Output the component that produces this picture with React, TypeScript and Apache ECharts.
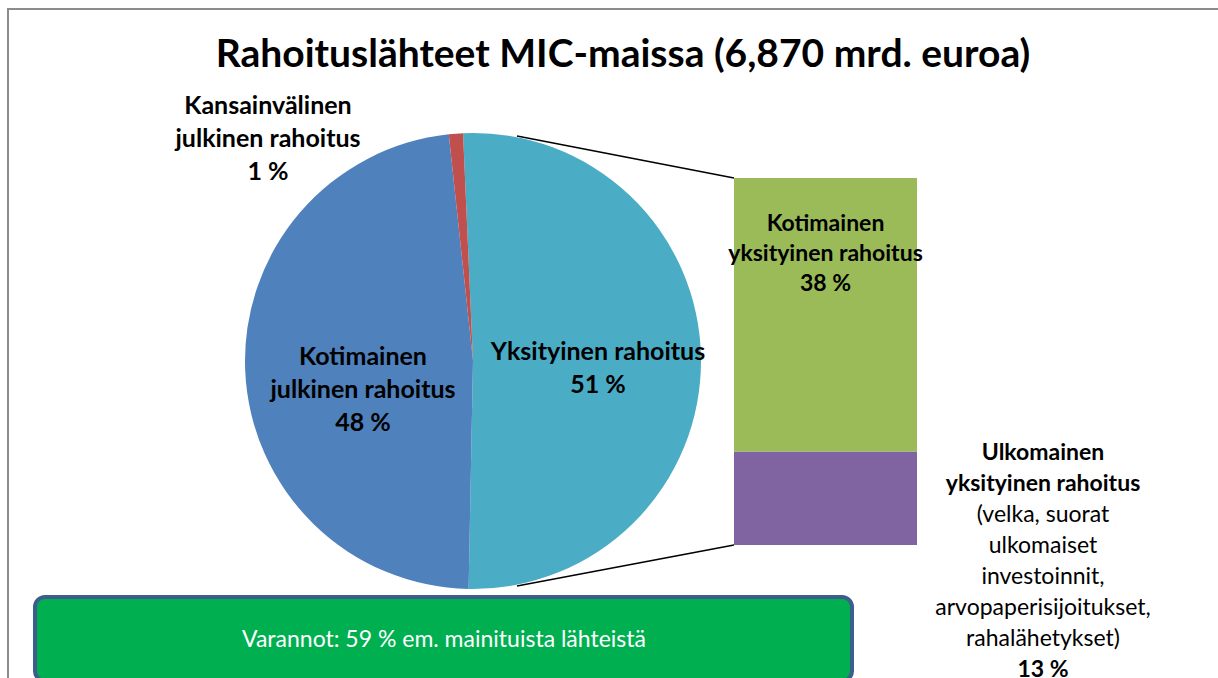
import React, { useEffect, useRef } from "react";
import * as echarts from "echarts";

const titleText = "Rahoituslähteet MIC-maissa (6,870 mrd. euroa)";
const pieNames = ["Yksityinen rahoitus", "Kotimainen julkinen rahoitus", "Kansainvälinen julkinen rahoitus"];
const pieValues = [51, 48, 1];
const pieColors = ["#4BACC6", "#4F81BD", "#C0504D"];
const barCategories = ["Yksityinen rahoitus"];
const barForeign = [13];
const barDomestic = [38];
const noteText = "Varannot: 59 % em. mainituista lähteistä";

const FONT = "Lato, 'Open Sans', sans-serif";

export default function App() {
  const ref = useRef<HTMLDivElement>(null);
  useEffect(() => {
    if (!ref.current) return;
    const chart = echarts.init(ref.current, undefined, { renderer: "svg" });
    const labelPos: Record<number, [number, number]> = {
      0: [598, 366],
      1: [363, 388],
      2: [268, 137],
    };
    chart.setOption({
      animation: false,
      backgroundColor: "#ffffff",
      textStyle: { fontFamily: FONT },
      title: {
        text: titleText,
        left: 618,
        textAlign: "center",
        top: 27,
        textStyle: { fontFamily: FONT, fontSize: 39, fontWeight: "bold", color: "#000" },
      },
      grid: { left: 734, top: 178, width: 183, height: 367 },
      xAxis: { type: "category", data: barCategories, show: false },
      yAxis: { type: "value", min: 0, max: 51, show: false },
      graphic: [
        {
          type: "rect",
          shape: { x: 8, y: 9, width: 1230, height: 700 },
          style: { fill: "none", stroke: "#8C8C8C", lineWidth: 2 },
          silent: true,
          z: -10,
        },
        {
          type: "line",
          shape: { x1: 517, y1: 136, x2: 734, y2: 178 },
          style: { stroke: "#000", lineWidth: 1.5 },
          z: 1,
        },
        {
          type: "line",
          shape: { x1: 517, y1: 586, x2: 734, y2: 545 },
          style: { stroke: "#000", lineWidth: 1.5 },
          z: 1,
        },
        {
          type: "group",
          z: 100,
          children: [
            {
              type: "rect",
              shape: { x: 35, y: 597, width: 817, height: 84, r: 10 },
              style: { fill: "#00B050", stroke: "#3B5E8C", lineWidth: 4 },
            },
            {
              type: "text",
              x: 444,
              y: 638,
              style: {
                text: noteText,
                fill: "#ffffff",
                font: `23px ${FONT}`,
                textAlign: "center",
                textVerticalAlign: "middle",
              },
            },
          ],
        },
      ],
      series: [
        {
          type: "pie",
          center: [473, 361],
          radius: 228,
          startAngle: 92.5,
          clockwise: true,
          z: 5,
          data: pieNames.map((n, i) => ({
            name: n,
            value: pieValues[i],
            itemStyle: { color: pieColors[i] },
          })),
          label: {
            show: true,
            position: "inside",
            formatter: (p: any) => {
              if (p.dataIndex === 0) return "Yksityinen rahoitus\n" + p.value + " %";
              if (p.dataIndex === 1) return "Kotimainen\njulkinen rahoitus\n" + p.value + " %";
              return "Kansainvälinen\njulkinen rahoitus\n" + p.value + " %";
            },
            fontFamily: FONT,
            fontSize: 25,
            fontWeight: "bold",
            color: "#000",
            lineHeight: 33,
            align: "center",
          },
          labelLine: { show: false },
          labelLayout: (params: any) => {
            const p = labelPos[params.dataIndex];
            return { x: p[0], y: p[1], align: "center", verticalAlign: "middle" };
          },
          emphasis: { disabled: true },
        },
        {
          type: "bar",
          name: "Ulkomainen yksityinen rahoitus",
          stack: "s",
          data: barForeign,
          barWidth: "100%",
          itemStyle: { color: "#8064A2" },
          label: {
            show: true,
            position: [309, -16],
            align: "center",
            verticalAlign: "top",
            formatter: (p: any) =>
              "{b|Ulkomainen}\n{b|yksityinen rahoitus}\n{n|(velka, suorat}\n{n|ulkomaiset}\n{n|investoinnit,}\n{n|arvopaperisijoitukset,}\n{n|rahalähetykset)}\n{b|" +
              p.value +
              " %}",
            rich: {
              b: { fontFamily: FONT, fontSize: 23, fontWeight: "bold", color: "#000", lineHeight: 31, align: "center" },
              n: { fontFamily: FONT, fontSize: 23, color: "#000", lineHeight: 31, align: "center" },
            },
          },
          emphasis: { disabled: true },
        },
        {
          type: "bar",
          name: "Kotimainen yksityinen rahoitus",
          stack: "s",
          data: barDomestic,
          barWidth: "100%",
          itemStyle: { color: "#9BBB59" },
          label: {
            show: true,
            position: "insideTop",
            distance: 29,
            formatter: (p: any) => "Kotimainen\nyksityinen rahoitus\n" + p.value + " %",
            fontFamily: FONT,
            fontSize: 23,
            fontWeight: "bold",
            color: "#000",
            lineHeight: 30,
            align: "center",
          },
          emphasis: { disabled: true },
        },
      ],
    });
    return () => chart.dispose();
  }, []);
  return (
    <div
      ref={ref}
      style={{ position: "fixed", left: 0, top: 0, width: 1218, height: 678 }}
    />
  );
}
